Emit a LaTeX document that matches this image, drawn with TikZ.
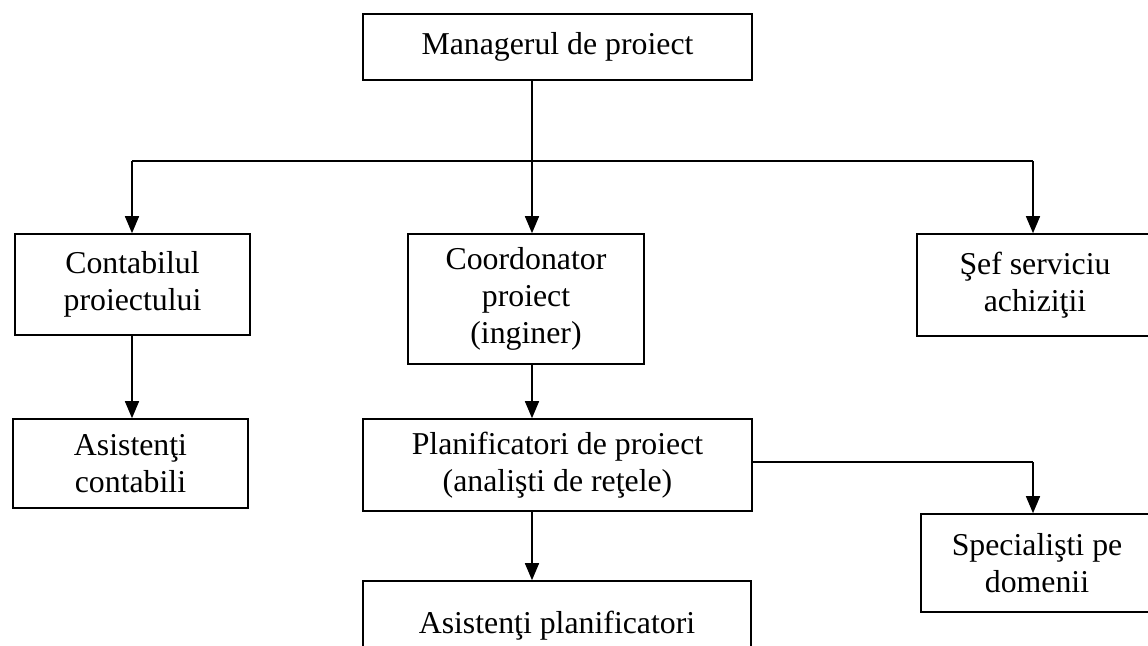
\documentclass[tikz,border=0pt]{standalone}
\usepackage{fontspec}
\setmainfont{Liberation Serif}
\usetikzlibrary{arrows.meta}
\begin{document}
\begin{tikzpicture}[x=1pt,y=-1pt,
  box/.style={draw,line width=1.6pt,inner sep=0pt,align=center,
    font=\fontsize{31.8}{37}\selectfont},
  arr/.style={line width=1.5pt,-{Triangle[width=14pt,length=17pt]}},
  ln/.style={line width=1.5pt}]
\useasboundingbox (0,0) rectangle (1148,645);
\node[box,minimum width=389pt,minimum height=66pt] (mgr) at (557.5,47) {Managerul de proiect};
\node[box,minimum width=235pt,minimum height=101pt] (cont) at (132.5,284.5) {Contabilul\\proiectului};
\node[box,minimum width=236pt,minimum height=130pt] (coord) at (526,299) {Coordonator\\proiect\\(inginer)};
\node[box,minimum width=236pt,minimum height=102pt] (sef) at (1035,285) {Şef serviciu\\achiziţii};
\node[box,minimum width=235pt,minimum height=89pt] (asc) at (130.5,463.5) {Asistenţi\\contabili};
\node[box,minimum width=389pt,minimum height=92pt] (plan) at (557.5,465) {Planificatori de proiect\\(analişti de reţele)};
\node[box,minimum width=232pt,minimum height=98pt] (spec) at (1037,563) {Specialişti pe\\domenii};
\node[box,minimum width=388pt,minimum height=82pt,text depth=0pt] (asp) at (557,622) {Asistenţi planificatori};
\coordinate (bus) at (532,161);
\coordinate (busl) at (132,161);
\coordinate (busr) at (1033,161);
\coordinate (br) at (1033,462);
\draw[ln] (mgr.south -| bus) -- (bus);
\draw[ln] (busl) -- (busr);
\draw[arr] (busl) -- (busl |- cont.north);
\draw[arr] (bus) -- (bus |- coord.north);
\draw[arr] (busr) -- (busr |- sef.north);
\draw[arr] (cont.south -| busl) -- (busl |- asc.north);
\draw[arr] (coord.south -| bus) -- (bus |- plan.north);
\draw[arr] (plan.south -| bus) -- (bus |- asp.north);
\draw[ln] (plan.east |- br) -- (br);
\draw[arr] (br) -- (br |- spec.north);
\end{tikzpicture}
\end{document}
